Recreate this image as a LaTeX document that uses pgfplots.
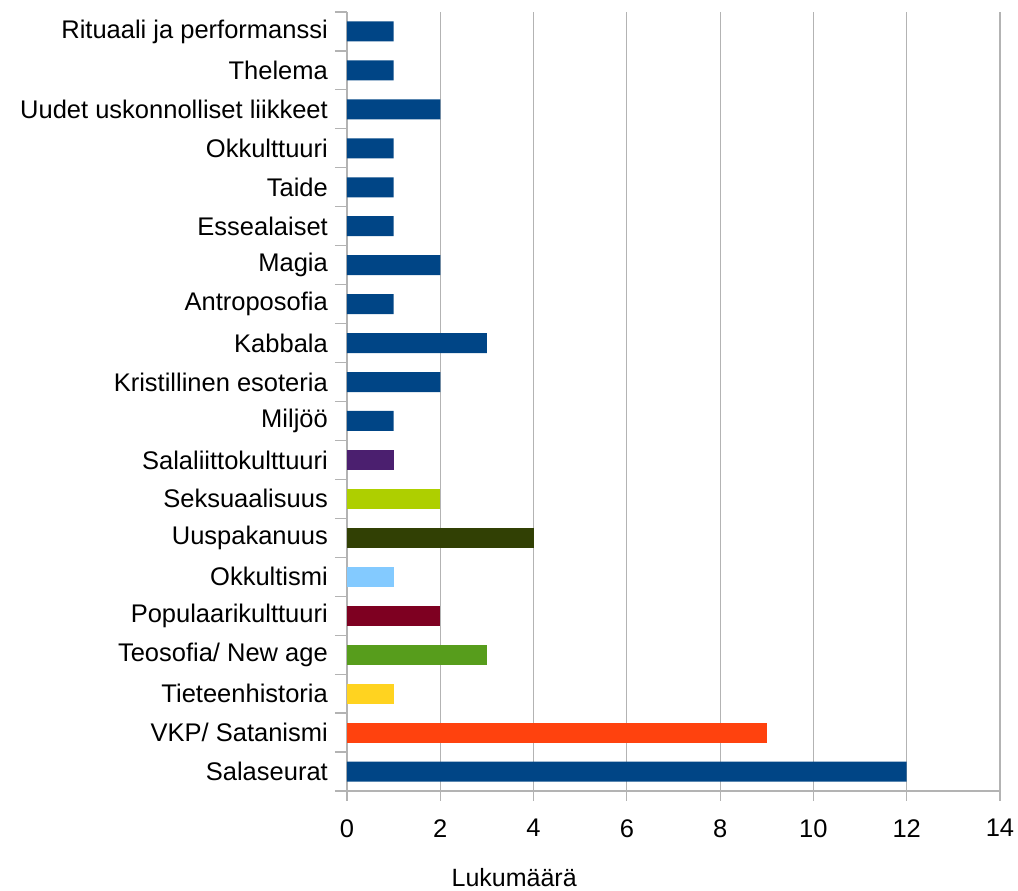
\documentclass[border=0pt]{standalone}
\usepackage{fontspec}
\setmainfont{Liberation Sans}
\usepackage{pgfplots}
\pgfplotsset{compat=1.18}
\definecolor{lblue}{HTML}{004586}
\definecolor{lorange}{HTML}{FF420E}
\definecolor{lyellow}{HTML}{FFD320}
\definecolor{lgreen}{HTML}{579D1C}
\definecolor{lwine}{HTML}{7E0021}
\definecolor{lsky}{HTML}{83CAFF}
\definecolor{lolive}{HTML}{314004}
\definecolor{llime}{HTML}{AECF00}
\definecolor{lpurple}{HTML}{4B1F6F}
\definecolor{lgrid}{HTML}{B3B3B3}
\begin{document}
\begin{tikzpicture}
\begin{axis}[
    scale only axis,
    width=653pt, height=779pt,
    xbar, bar width=20pt, bar shift=0pt,
    xmin=0, xmax=14,
    ymin=-0.5, ymax=19.5,
    axis lines=left,
    axis line style={-, draw=lgrid, line width=1.2pt},
    xtick={0,2,...,14},
    ytick={0,...,19},
    minor ytick={-0.5,0.5,...,19.5},
    yticklabels={Salaseurat,VKP/ Satanismi,Tieteenhistoria,Teosofia/ New age,
        Populaarikulttuuri,Okkultismi,Uuspakanuus,Seksuaalisuus,Salaliittokulttuuri,
        Miljöö,Kristillinen esoteria,Kabbala,Antroposofia,Magia,Essealaiset,Taide,
        Okkulttuuri,Uudet uskonnolliset liikkeet,Thelema,Rituaali ja performanssi},
    tick align=outside,
    major tick length=10pt, minor tick length=12pt,
    every major y tick/.append style={draw=none},
    every minor y tick/.append style={draw=lgrid, line width=1.2pt},
    every major x tick/.append style={draw=lgrid, line width=1.2pt},
    xmajorgrids, grid style={draw=lgrid, line width=1.2pt},
    ticklabel style={font=\fontsize{25.5}{30}\selectfont},
    /pgf/number format/assume math mode=true,
    yticklabel style={inner sep=0pt, xshift=-9pt},
    xticklabel style={inner sep=0pt, yshift=-18pt},
    xlabel={Lukumäärä},
    xlabel style={font=\fontsize{25}{30}\selectfont, at={(axis description cs:0.256,0)}, anchor=base, yshift=-96pt},
    ]
    \addplot[fill=lblue, draw=none] coordinates {
        (12,0) (1,9) (2,10) (3,11) (1,12) (2,13) (1,14) (1,15) (1,16) (2,17) (1,18) (1,19) };
    \addplot[fill=lorange, draw=none] coordinates {(9,1)};
    \addplot[fill=lyellow, draw=none] coordinates {(1,2)};
    \addplot[fill=lgreen, draw=none] coordinates {(3,3)};
    \addplot[fill=lwine, draw=none] coordinates {(2,4)};
    \addplot[fill=lsky, draw=none] coordinates {(1,5)};
    \addplot[fill=lolive, draw=none] coordinates {(4,6)};
    \addplot[fill=llime, draw=none] coordinates {(2,7)};
    \addplot[fill=lpurple, draw=none] coordinates {(1,8)};
\end{axis}
\path[use as bounding box] (-347pt,-100pt) rectangle (671pt,791pt);
\end{tikzpicture}
\end{document}
